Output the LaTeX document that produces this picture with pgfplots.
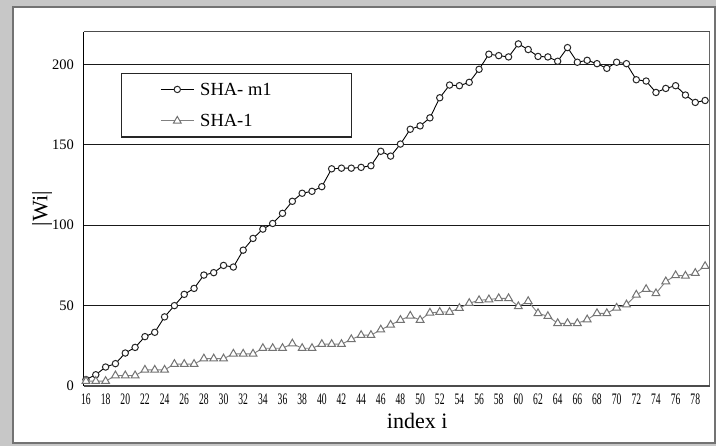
\documentclass[border=0pt]{standalone}
\usepackage{pgfplots}
\pgfplotsset{compat=1.18}
\usepackage{graphicx}
\usepackage{fontspec}
\setmainfont{Liberation Serif}
\pgfplotstableread{
i w
16 4
17 7
18 11.8
19 13.9
20 20.5
21 24
22 30.7
23 33.4
24 43
25 50
26 57
27 60.7
28 69
29 70.5
30 75
31 74
32 84.5
33 91.8
34 97.6
35 101.1
36 107.4
37 114.9
38 119.9
39 121.1
40 124
41 135.1
42 135.5
43 135.5
44 136
45 137
46 146
47 143
48 150.5
49 159.7
50 161.8
51 166.8
52 179.3
53 187.2
54 186.8
55 188.9
56 197
57 206.4
58 205.5
59 204.7
60 212.8
61 209.3
62 205
63 204.7
64 202
65 210.5
66 201.4
67 202.6
68 200.5
69 197.6
70 201.4
71 200.5
72 190.5
73 189.7
74 182.6
75 185.1
76 186.8
77 181
78 176.4
79 177.6
}\shamone
\pgfplotstableread{
i w
16 3
17 3
18 3
19 6.5
20 6.5
21 6.5
22 10
23 10
24 10
25 13.6
26 13.6
27 13.6
28 17
29 17
30 17
31 20
32 20
33 20
34 23.5
35 23.5
36 23.5
37 26.3
38 23.5
39 23.5
40 26
41 26
42 26
43 29
44 31.6
45 31.6
46 35
47 38
48 41
49 43.6
50 41
51 45.5
52 46
53 46
54 48.4
55 51.5
56 53.3
57 53.8
58 54.5
59 54.5
60 49.5
61 52.7
62 45.2
63 43.4
64 39
65 39
66 39
67 41.3
68 45.2
69 45.2
70 48.6
71 50.6
72 56.7
73 60.2
74 57.6
75 65
76 68.8
77 68.5
78 70.2
79 74.5
}\shaone
\begin{document}
\begin{tikzpicture}[x=1bp,y=1bp]
\useasboundingbox (0,0) rectangle (716,446);
\fill[black!22] (0,0) rectangle (716,446);
\filldraw[fill=white, draw=black!55, line width=2bp] (13,3) rectangle (715,439);
\begin{axis}[
  at={(83.5bp,60bp)}, anchor=south west,
  scale only axis, width=626bp, height=354.3bp,
  xmin=15.75, xmax=79.45, ymin=0, ymax=220.4,
  clip=false,
  axis line style={draw=none},
  xtick={16,18,...,78}, ytick={50,100,150,200},
  extra y ticks={0}, extra y tick style={grid=none},
  major tick length=0pt,
  ymajorgrids, grid style={black!90, line width=1.2bp},
  /pgf/number format/assume math mode=true,
  xticklabel style={font=\fontsize{16bp}{16bp}\selectfont, yshift=-4.5bp},
  xticklabel={\scalebox{0.6}[1]{\pgfmathprintnumber{\tick}}},
  yticklabel style={font=\fontsize{14.5bp}{15bp}\selectfont, xshift=-6bp},
  xlabel={index i},
  xlabel style={font=\fontsize{22bp}{24bp}\selectfont, at={(axis description cs:0.533,0)}, anchor=center, yshift=-35bp},
  ylabel={|Wi|},
  ylabel style={font=\fontsize{22bp}{24bp}\selectfont, at={(axis description cs:-0.0663,0.5)}, anchor=center},
  legend style={at={(axis description cs:0.0594,0.884)}, anchor=north west,
    draw=black!85, line width=1.3bp, fill=white,
    font=\fontsize{18.5bp}{20bp}\selectfont,
    inner xsep=39bp, inner ysep=10bp, column sep=6bp, row sep=19.5bp,
    nodes={inner sep=0pt, text height=12bp, text depth=0bp}},
  legend cell align=left,
  legend image code/.code={\draw[mark repeat=2,mark phase=2] plot coordinates {(0bp,0bp)(16.5bp,0bp)(33bp,0bp)};},
]
\addplot[black, line width=0.9bp, mark=*, mark size=3.2bp,
  mark options={draw=black!85, fill=white, line width=1bp}] table[x=i,y=w] {\shamone};
\addlegendentry{\makebox[112bp][l]{SHA- m1}}
\addplot[black!50, line width=0.9bp, mark=triangle*, mark size=4.5bp,
  mark options={draw=black!55, fill=white, line width=1bp}] table[x=i,y=w] {\shaone};
\addlegendentry{\makebox[112bp][l]{SHA-1}}
\draw[black!70, line width=1bp] (rel axis cs:0,1) -- (rel axis cs:1,1);
\draw[black!60, line width=1.2bp] (rel axis cs:1,0) -- (rel axis cs:1,1);
\draw[black!70, line width=2bp] (rel axis cs:0,0) -- (rel axis cs:1,0);
\draw[black, line width=1.5bp] (rel axis cs:0,0) -- (rel axis cs:0,1);
\end{axis}
\end{tikzpicture}
\end{document}
